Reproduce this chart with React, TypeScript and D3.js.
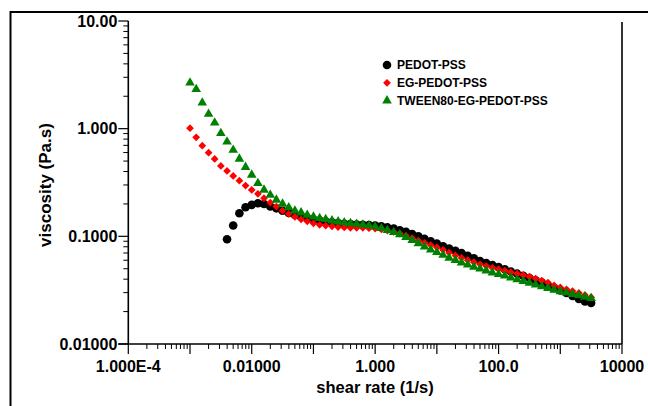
import React from "react";
import * as d3 from "d3";

const shearRate = [
  0.001, 0.00126, 0.00158, 0.002, 0.00251, 0.00316, 0.00398, 0.00501, 0.00631, 0.00794,
  0.01, 0.0126, 0.0158, 0.02, 0.0251, 0.0316, 0.0398, 0.0501, 0.0631, 0.0794,
  0.1, 0.126, 0.158, 0.2, 0.251, 0.316, 0.398, 0.501, 0.631, 0.794,
  1, 1.26, 1.58, 2, 2.51, 3.16, 3.98, 5.01, 6.31, 7.94,
  10, 12.6, 15.8, 20, 25.1, 31.6, 39.8, 50.1, 63.1, 79.4,
  100, 126, 158, 200, 251, 316, 398, 501, 631, 794,
  1000, 1260, 1580, 2000, 2510, 3160,
];

const pedotPss: (number | null)[] = [
  null, null, null, null, null, null, 0.094, 0.126, 0.164, 0.186,
  0.196, 0.203, 0.2, 0.189, 0.182, 0.173, 0.165, 0.158, 0.152, 0.147,
  0.143, 0.14, 0.137, 0.135, 0.133, 0.131, 0.13, 0.129, 0.128, 0.127,
  0.126, 0.124, 0.121, 0.118, 0.114, 0.11, 0.105, 0.1, 0.095, 0.09,
  0.0855, 0.081, 0.077, 0.0733, 0.0698, 0.066, 0.0625, 0.059, 0.0565, 0.054,
  0.0518, 0.0495, 0.0472, 0.045, 0.043, 0.041, 0.039, 0.0372, 0.035, 0.0332,
  0.0315, 0.0298, 0.028, 0.0262, 0.0248, 0.024,
];

const egPedotPss = [
  1.01, 0.832, 0.695, 0.598, 0.524, 0.451, 0.405, 0.364, 0.329, 0.296,
  0.27, 0.248, 0.226, 0.206, 0.189, 0.173, 0.162, 0.152, 0.144, 0.138,
  0.132, 0.128, 0.126, 0.124, 0.122, 0.121, 0.12, 0.12, 0.12, 0.119,
  0.118, 0.116, 0.113, 0.11, 0.106, 0.101, 0.096, 0.091, 0.087, 0.083,
  0.079, 0.075, 0.0705, 0.0665, 0.063, 0.06, 0.0575, 0.055, 0.053, 0.051,
  0.0495, 0.048, 0.0465, 0.045, 0.0437, 0.0423, 0.0405, 0.0388, 0.0372, 0.035,
  0.0335, 0.0322, 0.031, 0.0298, 0.0285, 0.0272,
];

const tweenEgPedotPss = [
  2.67, 2.32, 1.74, 1.37, 1.135, 0.906, 0.757, 0.634, 0.524, 0.439,
  0.372, 0.311, 0.27, 0.242, 0.218, 0.2, 0.185, 0.173, 0.166, 0.158,
  0.152, 0.147, 0.144, 0.14, 0.137, 0.134, 0.132, 0.13, 0.128, 0.126,
  0.123, 0.119, 0.114, 0.109, 0.104, 0.098, 0.092, 0.086, 0.08, 0.075,
  0.071, 0.067, 0.063, 0.06, 0.057, 0.0545, 0.052, 0.05, 0.048, 0.046,
  0.0445, 0.043, 0.0413, 0.0397, 0.0382, 0.0368, 0.0355, 0.0342, 0.033, 0.0318,
  0.0308, 0.0299, 0.029, 0.0282, 0.0274, 0.0266,
];

const seriesNames = ["PEDOT-PSS", "EG-PEDOT-PSS", "TWEEN80-EG-PEDOT-PSS"];
const seriesColors = ["#000000", "#ff0000", "#008000"];

const xTickValues = [1e-4, 1e-2, 1, 100, 1e4];
const xTickLabels = ["1.000E-4", "0.01000", "1.000", "100.0", "10000"];
const yTickValues = [10, 1, 0.1, 0.01];
const yTickLabels = ["10.00", "1.000", "0.1000", "0.01000"];

const FONT = "'Liberation Sans', Arial, Helvetica, sans-serif";

export default function App() {
  const W = 648;
  const H = 406;
  const left = 128.3;
  const right = 622;
  const top = 21;
  const bottom = 344;

  const x = d3.scaleLog().domain([1e-4, 1e4]).range([left, right]);
  const y = d3.scaleLog().domain([0.01, 10]).range([bottom, top]);

  const circle = d3.symbol().type(d3.symbolCircle).size(58)()!;
  const diamond = d3.symbol().type(d3.symbolSquare).size(30)()!;
  const triangle = d3.symbol().type(d3.symbolTriangle).size(40)()!;
  const shapes = [
    { path: circle, rot: 0 },
    { path: diamond, rot: 45 },
    { path: triangle, rot: 0 },
  ];
  const allSeries = [pedotPss, egPedotPss, tweenEgPedotPss];

  const xMinor: number[] = [];
  const xMajor: number[] = [];
  for (let e = -4; e < 4; e++) {
    xMajor.push(Math.pow(10, e));
    for (let k = 2; k <= 9; k++) xMinor.push(k * Math.pow(10, e));
  }
  xMajor.push(1e4);
  const yMinor: number[] = [];
  for (let e = -2; e < 1; e++) {
    for (let k = 2; k <= 9; k++) yMinor.push(k * Math.pow(10, e));
  }

  return (
    <svg
      width={W}
      height={H}
      style={{ position: "absolute", left: 0, top: 0, background: "#fff" }}
      fontFamily={FONT}
    >
      <rect x={0} y={0} width={W} height={H} fill="#fff" />
      {/* outer frame */}
      <rect x={10.5} y={12} width={W + 20} height={H + 20} fill="none" stroke="#000" strokeWidth={2} />

      {/* axes lines */}
      <line x1={left} x2={left} y1={top} y2={bottom} stroke="#000" strokeWidth={1.6} />
      <line x1={left - 10} x2={right} y1={bottom} y2={bottom} stroke="#000" strokeWidth={1.4} />
      <line x1={right} x2={right} y1={top + 1} y2={bottom} stroke="#000" strokeWidth={1.6} />

      {/* y ticks */}
      {yTickValues.map((v) => (
        <line key={"ym" + v} x1={left - 10} x2={left} y1={y(v)} y2={y(v)} stroke="#000" strokeWidth={1.2} />
      ))}
      {yMinor.map((v) => (
        <line key={"yn" + v} x1={left - 5} x2={left} y1={y(v)} y2={y(v)} stroke="#000" strokeWidth={1} />
      ))}
      {yTickValues.map((v, i) => (
        <text
          key={"yl" + v}
          x={left - 11}
          y={y(v)}
          textAnchor="end"
          dominantBaseline="central"
          fontSize={16}
          fontWeight="bold"
        >
          {yTickLabels[i]}
        </text>
      ))}

      {/* x ticks */}
      {xMajor.map((v) => (
        <line key={"xm" + v} x1={x(v)} x2={x(v)} y1={bottom} y2={bottom + 10} stroke="#000" strokeWidth={1.2} />
      ))}
      {xMinor.map((v) => (
        <line key={"xn" + v} x1={x(v)} x2={x(v)} y1={bottom} y2={bottom + 5} stroke="#000" strokeWidth={1} />
      ))}
      {xTickValues.map((v, i) => (
        <text key={"xl" + v} x={x(v)} y={372} textAnchor="middle" fontSize={16} fontWeight="bold">
          {xTickLabels[i]}
        </text>
      ))}

      {/* axis titles */}
      <text x={375} y={393} textAnchor="middle" fontSize={16.5} fontWeight="bold">
        shear rate (1/s)
      </text>
      <text
        transform={`translate(45,185) rotate(-90)`}
        textAnchor="middle"
        dominantBaseline="central"
        fontSize={17}
        fontWeight="bold"
      >
        viscosity (Pa.s)
      </text>

      {/* data */}
      {allSeries.map((s, si) => (
        <g key={"s" + si} fill={seriesColors[si]}>
          {s.map((v, i) =>
            v == null ? null : (
              <path
                key={i}
                d={shapes[si].path}
                transform={`translate(${x(shearRate[i])},${y(v)}) rotate(${shapes[si].rot})`}
              />
            )
          )}
        </g>
      ))}

      {/* legend */}
      {seriesNames.map((n, i) => (
        <g key={"lg" + n} transform={`translate(387,${65 + i * 17.8})`}>
          <path d={shapes[i].path} transform={`rotate(${shapes[i].rot})`} fill={seriesColors[i]} />
          <text x={10} y={0} dominantBaseline="central" fontSize={12} fontWeight="bold">
            {n}
          </text>
        </g>
      ))}
    </svg>
  );
}
